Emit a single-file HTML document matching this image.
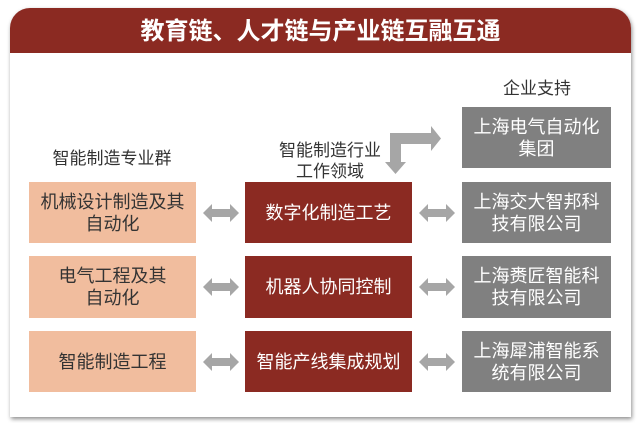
<!DOCTYPE html>
<html><head><meta charset="utf-8"><style>
*{margin:0;padding:0;box-sizing:border-box}
body{width:639px;height:423px;background:#fff;position:relative;overflow:hidden;font-family:"Liberation Sans","Noto Sans CJK SC",sans-serif}
.card{position:absolute;left:10px;top:8px;width:621px;height:409px;border-radius:20px 20px 0 0;background:#fff;box-shadow:1px 2px 4px rgba(0,0,0,.45)}
.hdr{position:absolute;left:10px;top:8px;width:621px;height:45px;border-radius:20px 20px 0 0;background:#8b2a22;color:#fff;font-size:24px;font-weight:bold;text-align:center;line-height:48px}
.b{position:absolute;display:flex;align-items:center;justify-content:center;text-align:center;font-size:18px;line-height:22px}
.l{left:29px;width:167px;background:#f1bd9e;color:#333}
.m{left:245px;width:167px;background:#8b2a22;color:#fff}
.r{left:462px;width:149px;background:#808080;color:#fff}
.t{position:absolute;font-size:17px;color:#333;text-align:center;line-height:21px}
</style></head><body>
<div class="card"></div>
<div class="hdr">教育链、人才链与产业链互融互通</div>
<div class="t" style="left:472px;width:130px;top:78px">企业支持</div>
<div class="t" style="left:22px;width:180px;top:148px">智能制造专业群</div>
<div class="t" style="left:255px;width:150px;top:140px">智能制造行业<br>工作领域</div>
<div class="b r" style="top:107px;height:61px">上海电气自动化<br>集团</div>
<div class="b l" style="top:182px;height:61px">机械设计制造及其<br>自动化</div>
<div class="b m" style="top:182px;height:61px">数字化制造工艺</div>
<div class="b r" style="top:182px;height:61px">上海交大智邦科<br>技有限公司</div>
<div class="b l" style="top:256px;height:62px">电气工程及其<br>自动化</div>
<div class="b m" style="top:256px;height:62px">机器人协同控制</div>
<div class="b r" style="top:256px;height:62px">上海赉匠智能科<br>技有限公司</div>
<div class="b l" style="top:331px;height:61px">智能制造工程</div>
<div class="b m" style="top:331px;height:61px">智能产线集成规划</div>
<div class="b r" style="top:331px;height:61px">上海犀浦智能系<br>统有限公司</div>
<svg width="639" height="423" style="position:absolute;left:0;top:0">
<g fill="#a6a6a6">
<path id="a" d="M203,0 L212,-9 L212,-4 L230,-4 L230,-9 L239,0 L230,9 L230,4 L212,4 L212,9 Z" transform="translate(0,213)"/>
<use href="#a" y="74"/><use href="#a" y="149"/>
<use href="#a" x="216"/><use href="#a" x="216" y="74"/><use href="#a" x="216" y="149"/>
<path d="M390,133 L431,133 L431,126 L441,138.5 L431,151 L431,144 L401,144 L401,162 L406,162 L395.5,174 L385,162 L390,162 Z"/>
</g></svg>
</body></html>
